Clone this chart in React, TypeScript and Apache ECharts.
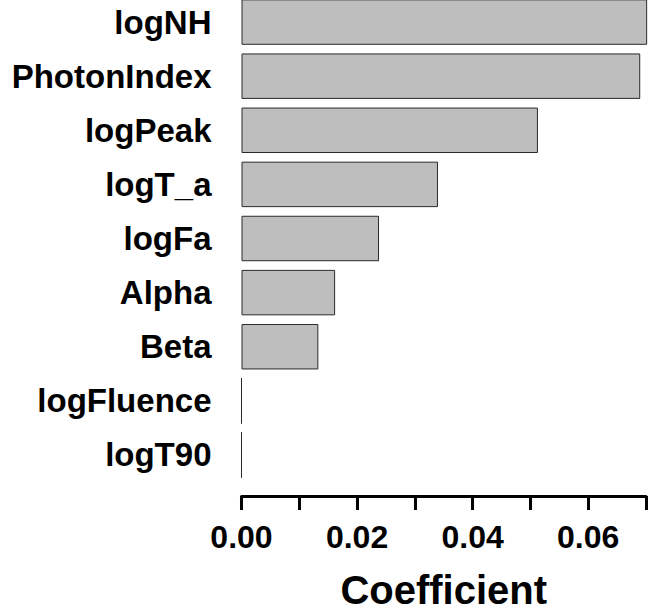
import React, { useEffect, useRef } from "react";
import * as echarts from "echarts";

const categories = [
  "logNH",
  "PhotonIndex",
  "logPeak",
  "logT_a",
  "logFa",
  "Alpha",
  "Beta",
  "logFluence",
  "logT90",
];
const coefficients = [0.0702, 0.069, 0.0513, 0.034, 0.0238, 0.0162, 0.0133, 0, 0];
const xMin = 0;
const xMax = 0.07;
const xInterval = 0.01;

export default function App() {
  const ref = useRef<HTMLDivElement>(null);
  useEffect(() => {
    if (!ref.current) return;
    const chart = echarts.init(ref.current, undefined, { renderer: "svg" });
    const font = "'Liberation Sans', Arial, Helvetica, sans-serif";
    chart.setOption({
      animation: false,
      backgroundColor: "#ffffff",
      grid: {
        left: 241.5,
        top: 0,
        width: 409.5,
        height: 494.1,
        containLabel: false,
      },
      xAxis: {
        type: "value",
        min: xMin,
        max: xMax,
        interval: xInterval,
        offset: 14,
        splitLine: { show: false },
        axisLine: { show: true, lineStyle: { color: "#000", width: 3 } },
        axisTick: { show: true, length: 14, lineStyle: { color: "#000", width: 3 } },
        axisLabel: {
          show: true,
          margin: 25,
          color: "#000",
          fontFamily: font,
          fontWeight: "bold",
          fontSize: 32,
          formatter: (v: number) => {
            const k = Math.round(v / xInterval);
            return k % 2 === 0 ? v.toFixed(2) : "";
          },
        },
        name: "Coefficient",
        nameLocation: "middle",
        nameGap: 74,
        nameTextStyle: {
          color: "#000",
          fontFamily: font,
          fontWeight: "bold",
          fontSize: 40,
        },
      },
      yAxis: {
        type: "category",
        data: categories,
        inverse: true,
        axisLine: { show: false },
        axisTick: { show: false },
        splitLine: { show: false },
        axisLabel: {
          margin: 30,
          color: "#000",
          fontFamily: font,
          fontWeight: "bold",
          fontSize: 33,
        },
      },
      series: [
        {
          type: "bar",
          data: coefficients,
          barCategoryGap: "16%",
          clip: false,
          itemStyle: {
            color: "#bebebe",
            borderColor: "#2a2a2a",
            borderWidth: 1,
          },
        },
      ],
    });
    return () => chart.dispose();
  }, []);
  return (
    <div style={{ position: "fixed", left: 0, top: 0, width: 649, height: 615, overflow: "hidden", background: "#fff" }}>
      <div
        ref={ref}
        style={{ position: "absolute", left: 0, top: -5, width: 649, height: 620 }}
      />
    </div>
  );
}
